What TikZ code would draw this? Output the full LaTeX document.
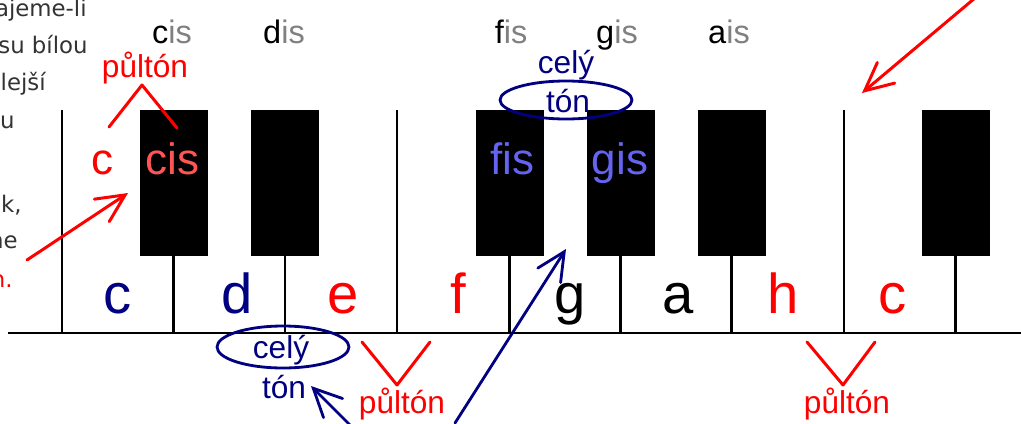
\documentclass[tikz,border=0pt]{standalone}
\usepackage{fontspec}
\setmainfont{Liberation Sans}
\newfontfamily\notefont{DejaVu Sans}
\usepackage{xcolor}
\usetikzlibrary{arrows.meta,shapes.geometric}
\definecolor{tonblue}{HTML}{000080}
\definecolor{tonred}{HTML}{FF0000}
\definecolor{cislight}{HTML}{FF5555}
\definecolor{fislight}{HTML}{6464F0}
\definecolor{isgray}{HTML}{808080}
\definecolor{notegray}{HTML}{333333}
\tikzset{
  blackkey/.style={draw=black, fill=black, rectangle, minimum width=1.34cm, minimum height=2.9cm, inner sep=0pt},
  keyline/.style={line width=1.4pt},
  whitename/.style={anchor=base, inner sep=0pt, font=\fontsize{32pt}{38pt}\selectfont},
  blackname/.style={anchor=base, inner sep=0pt, font=\fontsize{25pt}{30pt}\selectfont},
  topname/.style={anchor=base, inner sep=0pt, font=\fontsize{18.5pt}{22pt}\selectfont},
  steplabel/.style={anchor=base, inner sep=0pt, font=\fontsize{18pt}{22pt}\selectfont},
  tonoval/.style={draw=tonblue, ellipse, line width=1.6pt, minimum width=2.64cm, minimum height=0.76cm, inner sep=0pt},
  redline/.style={draw=tonred, line width=1.7pt, line cap=round, line join=round},
  redarrow/.style={redline, -{Straight Barb[length=0.56cm,width=0.54cm,line cap=round]}},
  bluearrow/.style={draw=tonblue, line width=1.6pt, line cap=round, -{Straight Barb[length=0.56cm,width=0.54cm,line cap=round]}},
  notetext/.style={anchor=base east, inner sep=0pt, text=notegray, font=\notefont\fontsize{13pt}{16pt}\selectfont},
}

\begin{document}
\begin{tikzpicture}[x=0.02cm, y=-0.02cm]%
\useasboundingbox (0,0) rectangle (1021,423);%
\node[notetext] (note1) at (87,16) {ajeme-li};%
\node[notetext] (note2) at (88,53) {su bílou};%
\node[notetext] (note3) at (46,90) {lejší};%
\node[notetext] (note4) at (15,128) {u};%
\node[notetext] (note5) at (22,212) {k,};%
\node[notetext] (note6) at (18,248) {me};%
\node[notetext, text=tonred] (note7) at (13,287) {n.};%
\draw[line width=1.7pt] (8,333) -- (1021,333);%
\draw[keyline] (62,110) -- (62,333);%
\draw[keyline] (397,110) -- (397,333);%
\draw[keyline] (844,110) -- (844,333);%
\node[blackkey] (cis) at (173.5,182.5) {};%
\node[blackkey] (dis) at (285,182.5) {};%
\node[blackkey] (fis) at (509.5,182.5) {};%
\node[blackkey] (gis) at (620.5,182.5) {};%
\node[blackkey] (ais) at (731.5,182.5) {};%
\node[blackkey] (cistwo) at (955.5,182.5) {};%
\draw[keyline] (cis.south) -- ++(0,78);%
\draw[keyline] (dis.south) -- ++(0,78);%
\draw[keyline] (fis.south) -- ++(0,78);%
\draw[keyline] (gis.south) -- ++(0,78);%
\draw[keyline] (ais.south) -- ++(0,78);%
\draw[keyline] (cistwo.south) -- ++(0,78);%
\node[topname] (topcis) at (172,43) {c\textcolor{isgray}{is}};%
\node[topname] (topdis) at (284,43) {d\textcolor{isgray}{is}};%
\node[topname] (topfis) at (511,43) {f\textcolor{isgray}{is}};%
\node[topname] (topgis) at (617,43) {g\textcolor{isgray}{is}};%
\node[topname] (topais) at (729,43) {a\textcolor{isgray}{is}};%
\node[whitename, text=tonblue] (cname) at (118,313) {c};%
\node[whitename, text=tonblue] (dname) at (237,313) {d};%
\node[whitename, text=tonred] (ename) at (343,313) {e};%
\node[whitename, text=tonred] (fname) at (458,313) {f};%
\node[whitename, text=black] (gname) at (570,313) {g};%
\node[whitename, text=black] (aname) at (678,313) {a};%
\node[whitename, text=tonred] (hname) at (783,313) {h};%
\node[whitename, text=tonred] (ctwoname) at (893,313) {c};%
\node[blackname, text=cislight] (cisname) at (172.5,174) {cis};%
\node[blackname, text=fislight] (fisname) at (512,174) {fis};%
\node[blackname, text=fislight] (gisname) at (620,174) {gis};%
\node[blackname, text=tonred] (credname) at (102,174) {c};%
\node[steplabel, text=tonred] (pultonone) at (145,77) {půltón};%
\coordinate (caretleft) at (109,127);%
\coordinate (caretapex) at (142,85);%
\coordinate (caretright) at (177,128);%
\draw[redline] (caretleft) -- (caretapex) -- (caretright);%
\coordinate (noteout) at (27,260);%
\coordinate (notein) at (128,193);%
\draw[redarrow] (noteout) -- (notein);%
\coordinate (rightout) at (975,-2);%
\coordinate (rightin) at (862,93);%
\draw[redarrow] (rightout) -- (rightin);%
\node[tonoval] (ovaltop) at (566,100) {};%
\node[steplabel, text=tonblue] (celytop) at (566,73) {celý};%
\node[steplabel, text=tonblue] (tontop) at (568,112) {tón};%
\coordinate (gout) at (455,423);%
\coordinate (gin) at (566,249);%
\draw[bluearrow] (gout) -- (gin);%
\node[tonoval, minimum height=0.84cm] (ovalbottom) at (283,347) {};%
\node[steplabel, text=tonblue] (celybottom) at (281,358) {celý};%
\node[steplabel, text=tonblue] (tonbottom) at (284,398) {tón};%
\coordinate (tonout) at (350,425);%
\coordinate (tonin) at (311,386);%
\draw[bluearrow] (tonout) -- (tonin);%
\draw[redline] (362,342) -- (397,385) -- (430,342);%
\node[steplabel, text=tonred] (pultontwo) at (402,413) {půltón};%
\draw[redline] (807,342) -- (843,385) -- (875,342);%
\node[steplabel, text=tonred] (pultonthree) at (847,413) {půltón};%
\end{tikzpicture}
\end{document}
